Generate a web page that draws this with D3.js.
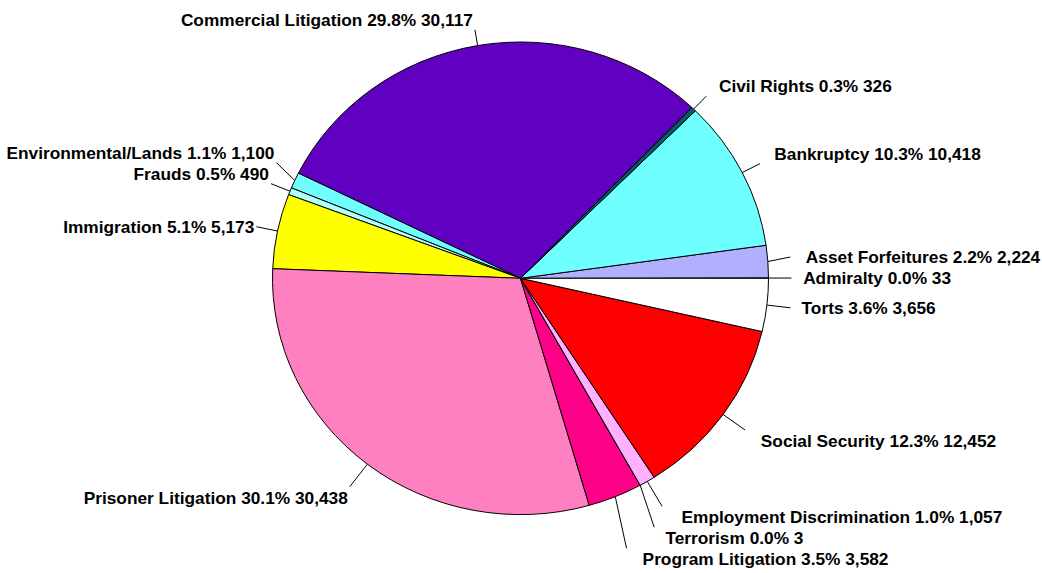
<!DOCTYPE html>
<html>
<head>
<meta charset="utf-8">
<script src="https://cdn.jsdelivr.net/npm/d3@7"></script>
<style>
  html, body { margin: 0; padding: 0; background: #fff; }
  svg { display: block; }
  text { font-family: "Liberation Sans", Arial, sans-serif; font-weight: bold; font-size: 17.3px; fill: #000; }
</style>
</head>
<body>
<svg id="chart" width="1042" height="573"></svg>
<script>
// Data (counter-clockwise from 3 o'clock)
const categories = [
  "Admiralty", "Asset Forfeitures", "Bankruptcy", "Civil Rights",
  "Commercial Litigation", "Environmental/Lands", "Frauds", "Immigration",
  "Prisoner Litigation", "Program Litigation", "Terrorism",
  "Employment Discrimination", "Social Security", "Torts"
];
const values = [33, 2224, 10418, 326, 30117, 1100, 490, 5173, 30438, 3582, 3, 1057, 12452, 3656];
const colors = [
  "#c0c0c0", "#b0b0ff", "#70ffff", "#005f5f",
  "#6000c0", "#70ffff", "#b0ffff", "#ffff00",
  "#ff80c0", "#ff0088", "#800080",
  "#ffb0ff", "#ff0000", "#ffffff"
];

const W = 1042, H = 573;
const cx = 520.5, cy = 278.3, rx = 248, ry = 236.3;

const data = categories.map((c, i) => ({ name: c, value: values[i], color: colors[i] }));
const total = d3.sum(values);
const pct = d3.format(".1%");
const num = d3.format(",");

const svg = d3.select("#chart");
svg.append("rect").attr("width", W).attr("height", H).attr("fill", "#fff");

const pie = d3.pie().sort(null).value(d => d.value)
  .startAngle(Math.PI / 2).endAngle(Math.PI / 2 - 2 * Math.PI);
const arcs = pie(data);
const arc = d3.arc().innerRadius(0).outerRadius(rx);

const g = svg.append("g").attr("transform", `translate(${cx},${cy}) scale(1,${ry / rx})`);
g.selectAll("path").data(arcs).join("path")
  .attr("d", arc)
  .attr("fill", d => d.data.color)
  .attr("stroke", "#000")
  .attr("stroke-width", 1)
  .attr("vector-effect", "non-scaling-stroke")
  .attr("stroke-linejoin", "round");

// Label layout
const labels = arcs.map(a => {
  const m = (a.startAngle + a.endAngle) / 2;
  const t = Math.PI / 2 - m;
  const c = Math.cos(t), s = Math.sin(t);
  const ax = cx + rx * c, ay = cy - ry * s;
  const L = 23 - 7 * s;
  const ex = ax + L * c, ey = ay - L * s;
  const vOff = s > 0.3 ? -10 : (s < -0.3 ? 11 : 0);
  return {
    text: `${a.data.name} ${pct(a.data.value / total)} ${num(a.data.value)}`,
    ax, ay, ex, ey, vOff, center: ey + vOff, right: c >= 0
  };
});

const spacing = 21;
function resolve(group) {
  group.sort((p, q) => p.center - q.center);
  let pivot = 0, best = Infinity;
  group.forEach((l, i) => { const d = Math.abs(l.center - cy); if (d < best) { best = d; pivot = i; } });
  for (let i = pivot - 1; i >= 0; i--) {
    if (group[i].center > group[i + 1].center - spacing) group[i].center = group[i + 1].center - spacing;
  }
  for (let i = pivot + 1; i < group.length; i++) {
    if (group[i].center < group[i - 1].center + spacing) group[i].center = group[i - 1].center + spacing;
  }
  group.forEach(l => { l.ey = l.center - l.vOff; });
}
resolve(labels.filter(l => l.right));
resolve(labels.filter(l => !l.right));

const lg = svg.append("g");
lg.selectAll("line").data(labels).join("line")
  .attr("x1", d => d.ax).attr("y1", d => d.ay)
  .attr("x2", d => d.ex).attr("y2", d => d.ey)
  .attr("stroke", "#000").attr("stroke-width", 1);

const texts = lg.selectAll("text").data(labels).join("text")
  .text(d => d.text)
  .attr("y", d => d.center + 6)
  .attr("text-anchor", d => d.right ? "start" : "end");

texts.each(function (d) {
  const w = this.getComputedTextLength();
  d3.select(this).attr("x", d.right ? d.ex + 5 + 0.045 * w : d.ex - 2);
});
</script>
</body>
</html>
